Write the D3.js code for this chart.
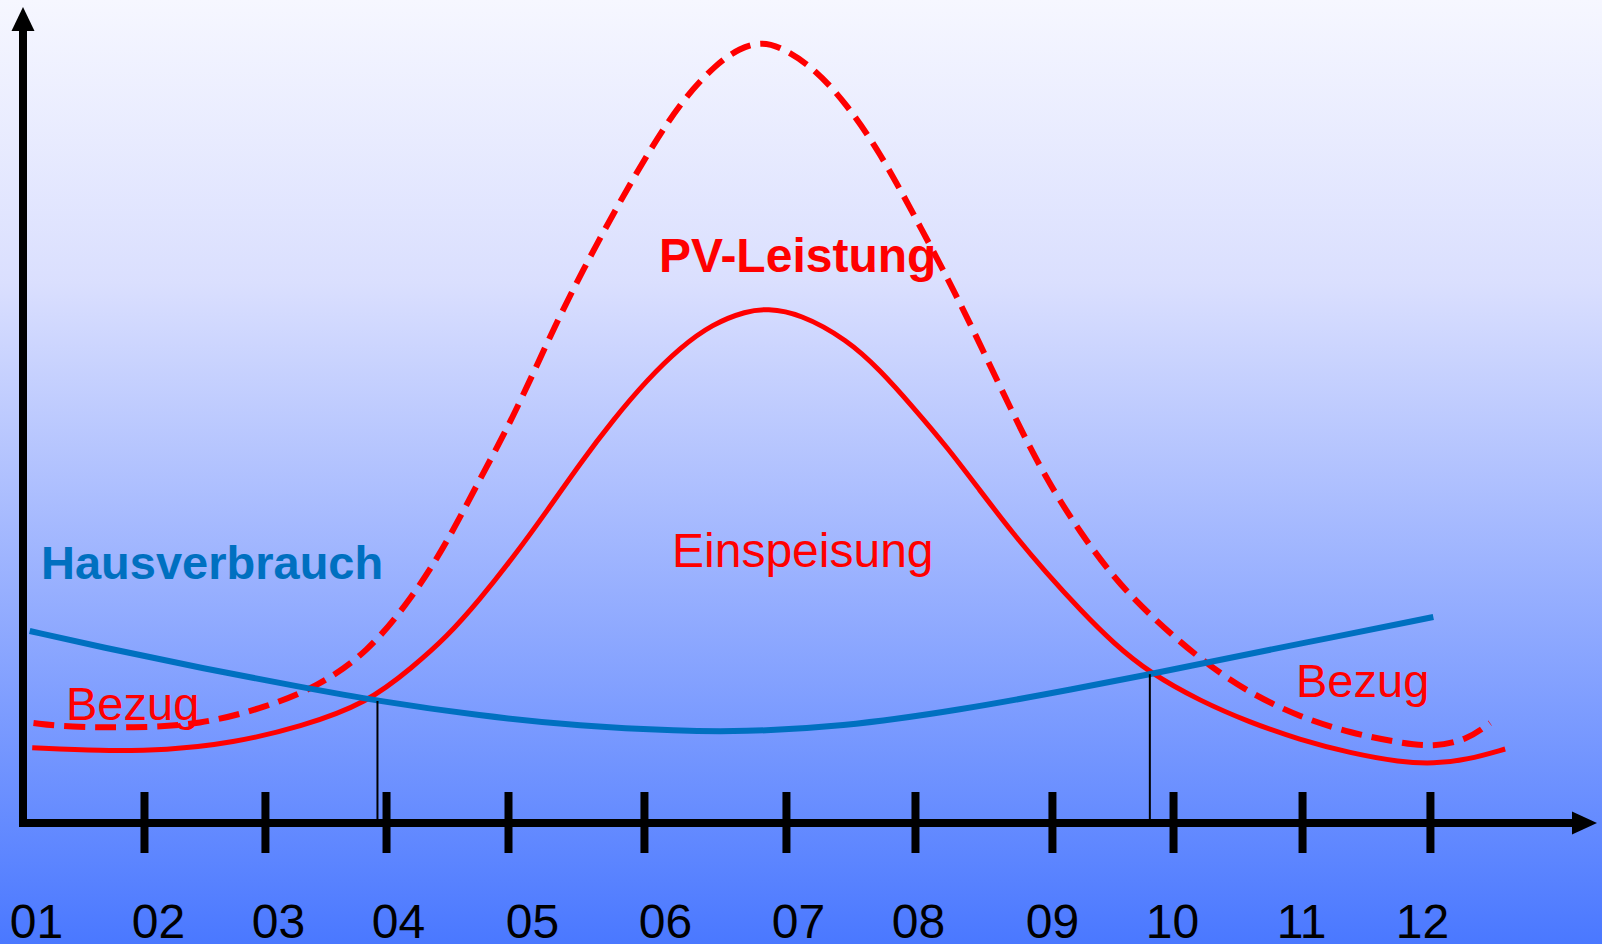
<!DOCTYPE html>
<html>
<head>
<meta charset="utf-8">
<script src="https://cdn.jsdelivr.net/npm/d3@7"></script>
<style>
  html, body { margin: 0; padding: 0; overflow: hidden; }
  svg { display: block; font-family: "Liberation Sans", Arial, sans-serif; }
</style>
</head>
<body>
<div id="chart"></div>
<script>
// month labels along the bottom, and where each sits (hand placed in the original)
const months = ["01", "02", "03", "04", "05", "06", "07", "08", "09", "10", "11", "12"];
const labelAt = [1.0, 1.968, 2.921, 3.873, 4.937, 5.992, 7.048, 8.0, 9.063, 10.016, 11.04, 12.0];
// tick marks on the axis (also not on whole months)
const tickAt = [1.857, 2.817, 3.778, 4.746, 5.825, 6.952, 7.976, 9.063, 10.024, 11.048, 12.063];

// PV-Leistung (dashed)
const pvX = [0.98, 1.25, 1.77, 2.30, 2.83, 3.23, 3.63, 3.99, 4.26, 4.52, 4.79, 5.10, 5.34, 5.61, 5.87, 6.13, 6.40, 6.59, 6.75, 6.90, 7.17, 7.44, 7.70, 7.96, 8.23, 8.44, 8.75, 9.02, 9.29, 9.55, 9.82, 10.24, 10.63, 11.03, 11.43, 11.83, 12.09, 12.36, 12.54];
const pvY = [1.25, 1.20, 1.19, 1.225, 1.45, 1.70, 2.125, 2.825, 3.50, 4.29, 5.075, 6.16, 6.91, 7.70, 8.41, 9.04, 9.49, 9.69, 9.76, 9.71, 9.45, 8.975, 8.375, 7.625, 6.825, 6.16, 5.125, 4.29, 3.625, 3.075, 2.625, 2.04, 1.625, 1.325, 1.125, 1.00, 0.95, 1.04, 1.25];

// Einspeisung (solid red)
const feedX = [0.97, 1.51, 2.04, 2.56, 3.10, 3.63, 3.99, 4.26, 4.52, 4.79, 5.06, 5.32, 5.58, 5.85, 6.11, 6.37, 6.64, 6.80, 7.06, 7.44, 7.70, 7.96, 8.23, 8.49, 8.75, 9.02, 9.29, 9.55, 9.84, 10.24, 10.63, 11.03, 11.43, 11.83, 12.09, 12.36, 12.66];
const feedY = [0.94, 0.90, 0.91, 1.00, 1.20, 1.50, 1.95, 2.325, 2.79, 3.325, 3.91, 4.50, 5.04, 5.54, 5.94, 6.24, 6.40, 6.43, 6.37, 6.04, 5.66, 5.20, 4.70, 4.16, 3.625, 3.125, 2.66, 2.25, 1.875, 1.525, 1.26, 1.04, 0.875, 0.76, 0.74, 0.79, 0.925];

// Hausverbrauch (blue)
const houseX = [0.95, 1.51, 2.30, 3.10, 3.71, 4.52, 5.32, 6.11, 6.59, 7.38, 8.33, 9.29, 9.84, 10.24, 11.03, 12.09];
const houseY = [2.40, 2.20, 1.94, 1.70, 1.525, 1.34, 1.21, 1.15, 1.14, 1.20, 1.41, 1.69, 1.86, 1.99, 2.24, 2.575];

// where Einspeisung crosses Hausverbrauch
const crossX = [3.71, 9.84];
const crossY = [1.525, 1.86];

const width = 1602, height = 944;
const originX = 23, originY = 823;

const x = d3.scaleLinear().domain([1, 12]).range([36, 1422]);
const y = d3.scaleLinear().domain([0, 10]).range([originY, 23]);

const svg = d3.select('#chart').append('svg')
    .attr('width', width)
    .attr('height', height)
    .attr('viewBox', `0 0 ${width} ${height}`);

// background gradient
const grad = svg.append('defs').append('linearGradient')
    .attr('id', 'bg').attr('x1', 0).attr('y1', 0).attr('x2', 0).attr('y2', 1);
grad.append('stop').attr('offset', 0).attr('stop-color', '#f6f7ff');
grad.append('stop').attr('offset', 0.3).attr('stop-color', '#dadffe');
grad.append('stop').attr('offset', 1).attr('stop-color', '#4a78ff');
svg.append('rect').attr('width', width).attr('height', height).attr('fill', 'url(#bg)');

const toPoints = (xs, ys) => xs.map((d, i) => [d, ys[i]]);
const line = d3.line()
    .x(d => x(d[0]))
    .y(d => y(d[1]))
    .curve(d3.curveBasis);

// red curves first, blue drawn over them
svg.append('path')
    .attr('d', line(toPoints(pvX, pvY)))
    .attr('fill', 'none')
    .attr('stroke', '#ff0000')
    .attr('stroke-width', 6)
    .attr('stroke-dasharray', '21,10');

svg.append('path')
    .attr('d', line(toPoints(feedX, feedY)))
    .attr('fill', 'none')
    .attr('stroke', '#ff0000')
    .attr('stroke-width', 5);

svg.append('path')
    .attr('d', line(toPoints(houseX, houseY)))
    .attr('fill', 'none')
    .attr('stroke', '#0070c0')
    .attr('stroke-width', 6);

// thin drop lines at the crossings
svg.selectAll('.drop')
    .data(crossX)
    .enter().append('line')
    .attr('class', 'drop')
    .attr('x1', d => x(d)).attr('x2', d => x(d))
    .attr('y1', (d, i) => y(crossY[i])).attr('y2', originY)
    .attr('stroke', '#000').attr('stroke-width', 2);

// axes
svg.append('line')
    .attr('x1', originX).attr('y1', originY + 4)
    .attr('x2', originX).attr('y2', 28)
    .attr('stroke', '#000').attr('stroke-width', 8);
svg.append('path')
    .attr('d', `M${originX},7 L${originX - 11.5},31 L${originX + 11.5},31 Z`)
    .attr('fill', '#000');

svg.append('line')
    .attr('x1', originX - 4).attr('y1', originY)
    .attr('x2', 1575).attr('y2', originY)
    .attr('stroke', '#000').attr('stroke-width', 8);
svg.append('path')
    .attr('d', `M1597,${originY} L1572,${originY - 11.5} L1572,${originY + 11.5} Z`)
    .attr('fill', '#000');

// tick marks crossing the axis
const tickAxis = d3.axisBottom(x).tickValues(tickAt).tickFormat('').tickSizeOuter(0).tickSize(61);
const tg = svg.append('g')
    .attr('transform', `translate(0,${originY - 31})`)
    .call(tickAxis);
tg.select('.domain').remove();
tg.selectAll('.tick line').attr('stroke', '#000').attr('stroke-width', 8);

// month labels
const labelAxis = d3.axisBottom(x).tickValues(labelAt).tickFormat((d, i) => months[i]).tickSize(0);
const lg = svg.append('g').call(labelAxis);
lg.select('.domain').remove();
lg.selectAll('.tick text')
    .attr('y', 938).attr('dy', 0)
    .attr('fill', '#000')
    .style('font-family', '"Liberation Sans", Arial, sans-serif')
    .style('font-size', '48px');

// annotations
const notes = [
    { text: 'PV-Leistung', x: 659, y: 272, color: '#ff0000', weight: 'bold', size: 48 },
    { text: 'Hausverbrauch', x: 41, y: 579, color: '#0070c0', weight: 'bold', size: 47 },
    { text: 'Einspeisung', x: 672, y: 567, color: '#ff0000', weight: 'normal', size: 48 },
    { text: 'Bezug', x: 66, y: 720, color: '#ff0000', weight: 'normal', size: 47 },
    { text: 'Bezug', x: 1296, y: 697, color: '#ff0000', weight: 'normal', size: 47 }
];
svg.selectAll('.note')
    .data(notes)
    .enter().append('text')
    .attr('class', 'note')
    .attr('x', d => d.x).attr('y', d => d.y)
    .attr('fill', d => d.color)
    .attr('font-weight', d => d.weight)
    .style('font-size', d => d.size + 'px')
    .text(d => d.text);
</script>
</body>
</html>
